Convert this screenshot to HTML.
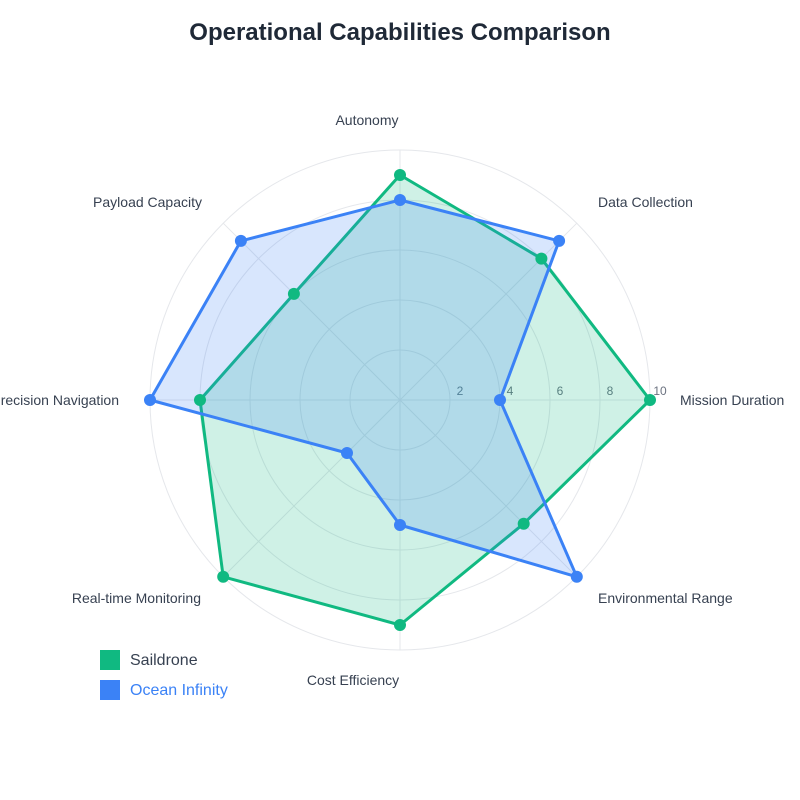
<!DOCTYPE html>
<html><head><style>body{margin:0;background:#fff}svg{display:block;font-family:"Liberation Sans",Arial,sans-serif}</style></head><body>
<svg width="800" height="800" viewBox="0 0 800 800">
<text x="400" y="40" text-anchor="middle" font-size="24" font-weight="bold" fill="#1f2937">Operational Capabilities Comparison</text>
<g fill="none" stroke="#e5e7eb" stroke-width="1">
<circle cx="400" cy="400" r="50"/><circle cx="400" cy="400" r="100"/><circle cx="400" cy="400" r="150"/><circle cx="400" cy="400" r="200"/><circle cx="400" cy="400" r="250"/>
<line x1="400" y1="150" x2="400" y2="650"/><line x1="150" y1="400" x2="650" y2="400"/>
<line x1="223.2" y1="223.2" x2="576.8" y2="576.8"/><line x1="576.8" y1="223.2" x2="223.2" y2="576.8"/>
</g>
<g font-size="12" fill="#6b7280"><text x="460" y="395" text-anchor="middle">2</text><text x="510" y="395" text-anchor="middle">4</text><text x="560" y="395" text-anchor="middle">6</text><text x="610" y="395" text-anchor="middle">8</text><text x="660" y="395" text-anchor="middle">10</text></g>
<polygon points="400,175 541.4,258.6 650,400 523.7,523.7 400,625 223.2,576.8 200,400 293.9,293.9" fill="rgba(16,185,129,0.2)" stroke="#10b981" stroke-width="3" stroke-linejoin="round"/>
<polygon points="400,200 559.1,240.9 500,400 576.8,576.8 400,525 347,453 150,400 240.9,240.9" fill="rgba(59,130,246,0.2)" stroke="#3b82f6" stroke-width="3" stroke-linejoin="round"/>
<g fill="#10b981"><circle cx="400" cy="175" r="6"/><circle cx="541.4" cy="258.6" r="6"/><circle cx="650" cy="400" r="6"/><circle cx="523.7" cy="523.7" r="6"/><circle cx="400" cy="625" r="6"/><circle cx="223.2" cy="576.8" r="6"/><circle cx="200" cy="400" r="6"/><circle cx="293.9" cy="293.9" r="6"/></g>
<g fill="#3b82f6"><circle cx="400" cy="200" r="6"/><circle cx="559.1" cy="240.9" r="6"/><circle cx="500" cy="400" r="6"/><circle cx="576.8" cy="576.8" r="6"/><circle cx="400" cy="525" r="6"/><circle cx="347" cy="453" r="6"/><circle cx="150" cy="400" r="6"/><circle cx="240.9" cy="240.9" r="6"/></g>
<g font-size="14" fill="#374151">
<text x="367" y="125" text-anchor="middle">Autonomy</text>
<text x="598" y="207">Data Collection</text>
<text x="680" y="405">Mission Duration</text>
<text x="598" y="603">Environmental Range</text>
<text x="353" y="685" text-anchor="middle">Cost Efficiency</text>
<text x="201" y="603" text-anchor="end">Real-time Monitoring</text>
<text x="119" y="405" text-anchor="end">Precision Navigation</text>
<text x="202" y="207" text-anchor="end">Payload Capacity</text>
</g>
<rect x="100" y="650" width="20" height="20" fill="#10b981"/><text x="130" y="665" font-size="16" fill="#374151">Saildrone</text>
<rect x="100" y="680" width="20" height="20" fill="#3b82f6"/><text x="130" y="695" font-size="16" fill="#3b82f6">Ocean Infinity</text>
</svg></body></html>
